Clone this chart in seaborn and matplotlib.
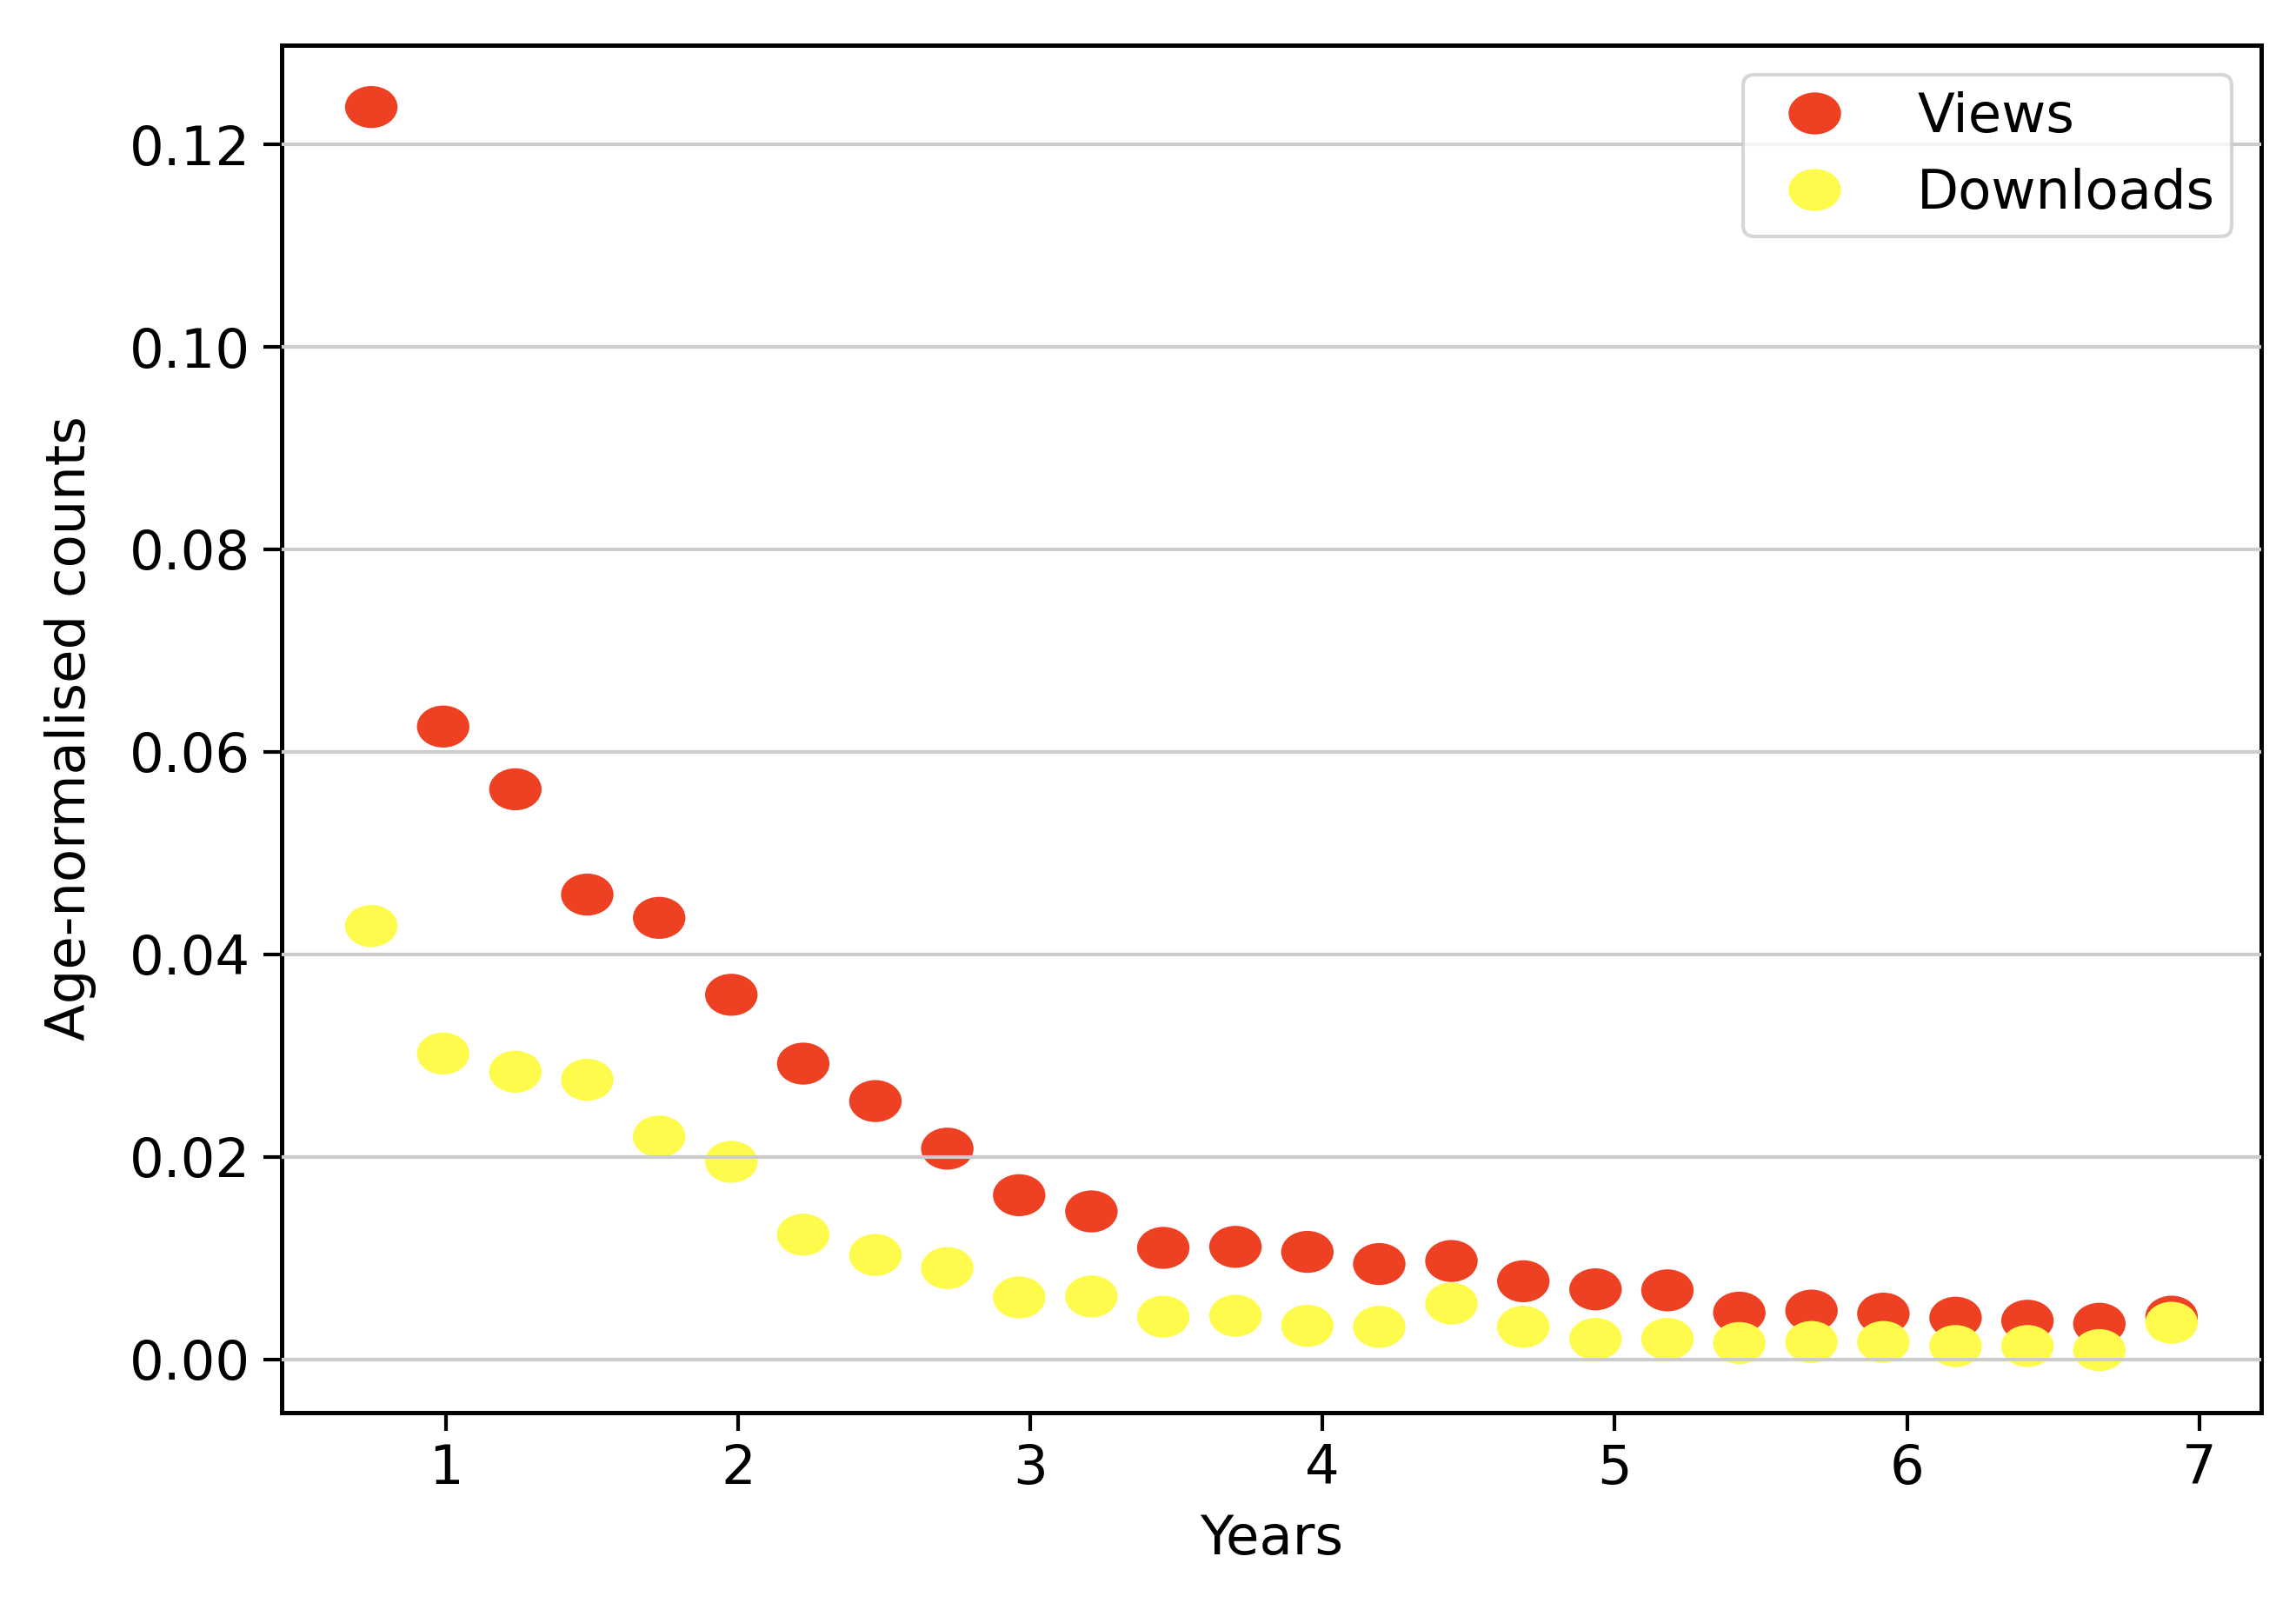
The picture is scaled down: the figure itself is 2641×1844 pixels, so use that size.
import numpy as np
import pandas as pd
import matplotlib
matplotlib.use("Agg")
import matplotlib.pyplot as plt
from matplotlib.path import Path
from matplotlib.transforms import Affine2D
import seaborn as sns

years = [0.745, 0.991, 1.238, 1.484, 1.730, 1.977, 2.223, 2.470, 2.716, 2.962,
         3.209, 3.455, 3.702, 3.948, 4.194, 4.441, 4.687, 4.934, 5.180, 5.426,
         5.673, 5.919, 6.166, 6.412, 6.658, 6.905]
views = [0.1237, 0.0625, 0.0563, 0.0459, 0.0436, 0.0360, 0.0292, 0.0255, 0.0208, 0.0162,
         0.0146, 0.0110, 0.0111, 0.0106, 0.0094, 0.0097, 0.0077, 0.0069, 0.0068, 0.0046,
         0.0048, 0.0045, 0.0041, 0.0038, 0.0035, 0.0042]
downloads = [0.0428, 0.0302, 0.0284, 0.0276, 0.0220, 0.0195, 0.0123, 0.0103, 0.0090, 0.0061,
             0.0062, 0.0042, 0.0043, 0.0033, 0.0032, 0.0055, 0.0032, 0.0020, 0.0020, 0.0016,
             0.0017, 0.0017, 0.0013, 0.0013, 0.0009, 0.0036]

df = pd.DataFrame({
    "Years": years * 2,
    "value": views + downloads,
    "series": ["Views"] * len(views) + ["Downloads"] * len(downloads),
})

plt.rcParams["font.family"] = ["DejaVu Sans"]
plt.rcParams["font.size"] = 15

ellipse = Affine2D().scale(1.25, 1.0).transform_path(Path.unit_circle())

fig = plt.figure(figsize=(2641 / 300, 1844 / 300), dpi=300)
ax = fig.add_axes([0.1225, 0.119, 0.8625, 0.853])

sns.scatterplot(data=df, x="Years", y="value", hue="series",
                palette={"Views": "#EE4123", "Downloads": "#FFFB4C"},
                marker=ellipse, s=210, linewidth=0, ax=ax, zorder=2)

ax.grid(axis="y", color="#cccccc", linewidth=1.0, zorder=3)
ax.set_axisbelow(False)
ax.set_xlabel("Years", fontsize=15, labelpad=5)
ax.set_ylabel("Age-normalised counts", fontsize=15, labelpad=9)
ax.tick_params(labelsize=15, length=5, width=1)
ax.set_xticks([1, 2, 3, 4, 5, 6, 7])
ax.set_yticks([0.00, 0.02, 0.04, 0.06, 0.08, 0.10, 0.12])
ax.set_yticklabels(["0.00", "0.02", "0.04", "0.06", "0.08", "0.10", "0.12"])
for sp in ax.spines.values():
    sp.set_color("black")
    sp.set_linewidth(1.2)

leg = ax.legend(loc="upper right", fontsize=15, frameon=True, borderpad=0.3,
                handletextpad=0.9, labelspacing=0.45, markerscale=1.0,
                borderaxespad=0.55)
leg.get_frame().set_edgecolor("#cccccc")

fig.savefig("out.png", dpi=300)
